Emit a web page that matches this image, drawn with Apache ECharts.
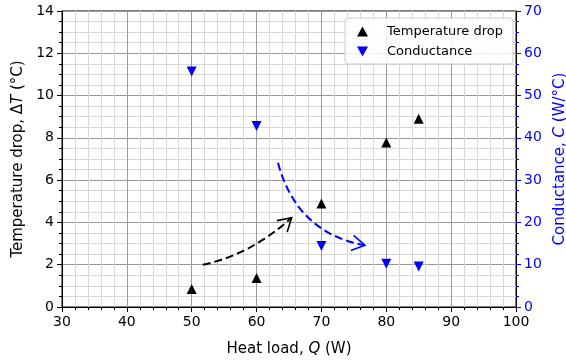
<!DOCTYPE html>
<html>
<head>
<meta charset="utf-8">
<script src="https://cdn.jsdelivr.net/npm/echarts@6/dist/echarts.min.js"></script>
<style>
  html, body { margin: 0; padding: 0; background: #fff; }
  #chart { width: 566px; height: 364px; }
</style>
</head>
<body>
<div id="chart"></div>
<script>
// heat load (W)
const heatLoad = [50, 60, 70, 80, 85]
// temperature drop (°C), left axis
const tempDrop = [0.85, 1.37, 4.9, 7.78, 8.9]
// conductance (W/°C), right axis
const conductance = [55.7, 42.8, 14.4, 10.2, 9.6]

// annotation arrows: start, control, end (in Q / ΔT units)
const blackArrow = [[51.7, 2.0], [59.0, 2.46], [65.4, 4.22]]
const blueArrow = [[63.3, 6.82], [66.2, 3.5], [76.7, 2.92]]

const font = 'DejaVu Sans'
const blue = '#0000ff'

const chart = echarts.init(document.getElementById('chart'))

function arrowShape(pts, api, color) {
  const p0 = api.coord(pts[0])
  const c = api.coord(pts[1])
  const p1 = api.coord(pts[2])
  const dx = p1[0] - c[0]
  const dy = p1[1] - c[1]
  const len = Math.hypot(dx, dy)
  const bx = -dx / len
  const by = -dy / len
  const L = 15
  const a = 31 * Math.PI / 180
  const arm = (s) => [
    p1[0] + L * (bx * Math.cos(s * a) - by * Math.sin(s * a)),
    p1[1] + L * (bx * Math.sin(s * a) + by * Math.cos(s * a))
  ]
  return [
    {
      type: 'bezierCurve',
      shape: { x1: p0[0], y1: p0[1], x2: p1[0], y2: p1[1], cpx1: c[0], cpy1: c[1] },
      style: { stroke: color, fill: null, lineWidth: 2, lineDash: [8, 4] }
    },
    {
      type: 'polyline',
      shape: { points: [arm(1), p1, arm(-1)] },
      style: { stroke: color, fill: null, lineWidth: 1.6 }
    }
  ]
}

const axisCommon = {
  axisLine: { show: true, onZero: false, lineStyle: { color: '#000', width: 1 } },
  axisTick: { show: true, inside: false, length: 5, lineStyle: { color: '#000' } },
  axisLabel: { color: '#000', fontSize: 14, fontFamily: font },
  splitLine: { show: true, lineStyle: { color: '#9a9a9a', width: 1 } },
  minorSplitLine: { show: true, lineStyle: { color: '#d8d8d8', width: 1 } }
}

const option = {
  animation: false,
  textStyle: { fontFamily: font },
  grid: {
    left: 62,
    right: 50,
    top: 11,
    bottom: 57,
    outerBoundsMode: 'none',
    containLabel: false,
    show: true,
    borderColor: '#000',
    borderWidth: 1
  },
  legend: {
    right: 53,
    top: 18,
    orient: 'vertical',
    backgroundColor: 'rgba(255,255,255,0.85)',
    borderColor: '#cccccc',
    borderWidth: 1,
    borderRadius: 3,
    padding: [7, 10, 6, 12],
    itemGap: 7,
    itemWidth: 11,
    itemHeight: 10,
    textStyle: { fontSize: 13, fontFamily: font, color: '#000', padding: [0, 0, 0, 14] },
    data: [
      { name: 'Temperature drop', icon: 'triangle' },
      { name: 'Conductance', icon: 'path://M0,0L10,0L5,9Z' }
    ]
  },
  xAxis: {
    type: 'value',
    min: 30,
    max: 100,
    interval: 10,
    ...axisCommon,
    minorTick: { show: true, splitNumber: 5, length: 3, lineStyle: { color: '#000' } },
    name: '{n|Heat load, }{i|Q}{n| (W)}',
    nameLocation: 'middle',
    nameGap: 35,
    nameTextStyle: {
      rich: {
        n: { fontSize: 15, fontFamily: font, color: '#000' },
        i: { fontSize: 15, fontFamily: font, color: '#000', fontStyle: 'italic' }
      }
    }
  },
  yAxis: [
    {
      type: 'value',
      position: 'left',
      min: 0,
      max: 14,
      interval: 2,
      ...axisCommon,
      minorTick: { show: true, splitNumber: 4, length: 3, lineStyle: { color: '#000' } },
      name: '{n|Temperature drop, Δ}{i|T}{n| (°C)}',
      nameLocation: 'middle',
      nameRotate: 90,
      nameGap: 35,
      nameTextStyle: {
        rich: {
          n: { fontSize: 15, fontFamily: font, color: '#000' },
          i: { fontSize: 15, fontFamily: font, color: '#000', fontStyle: 'italic' }
        }
      }
    },
    {
      type: 'value',
      position: 'right',
      min: 0,
      max: 70,
      interval: 10,
      axisLine: { show: true, onZero: false, lineStyle: { color: '#000', width: 1 } },
      axisTick: { show: true, inside: false, length: 5, lineStyle: { color: blue } },
      minorTick: { show: true, splitNumber: 4, length: 3, lineStyle: { color: blue } },
      axisLabel: { color: blue, fontSize: 14, fontFamily: font },
      splitLine: { show: false },
      minorSplitLine: { show: false },
      name: '{n|Conductance, }{i|C}{n| (W/°C)}',
      nameLocation: 'middle',
      nameRotate: 90,
      nameGap: 37,
      nameTextStyle: {
        rich: {
          n: { fontSize: 15, fontFamily: font, color: blue },
          i: { fontSize: 15, fontFamily: font, color: blue, fontStyle: 'italic' }
        }
      }
    }
  ],
  series: [
    {
      name: 'Temperature drop',
      type: 'scatter',
      yAxisIndex: 0,
      symbol: 'triangle',
      symbolSize: 10,
      itemStyle: { color: '#000', opacity: 1 },
      data: heatLoad.map((q, i) => [q, tempDrop[i]]),
      z: 5
    },
    {
      name: 'Conductance',
      type: 'scatter',
      yAxisIndex: 1,
      symbol: 'triangle',
      symbolRotate: 180,
      symbolSize: 10,
      itemStyle: { color: blue, opacity: 1 },
      data: heatLoad.map((q, i) => [q, conductance[i]]),
      z: 5
    },
    {
      type: 'custom',
      yAxisIndex: 0,
      silent: true,
      clip: false,
      data: [[60, 3]],
      renderItem: function (params, api) {
        return {
          type: 'group',
          children: arrowShape(blackArrow, api, '#000').concat(arrowShape(blueArrow, api, blue))
        }
      },
      z: 4
    }
  ]
}

chart.setOption(option)
</script>
</body>
</html>
